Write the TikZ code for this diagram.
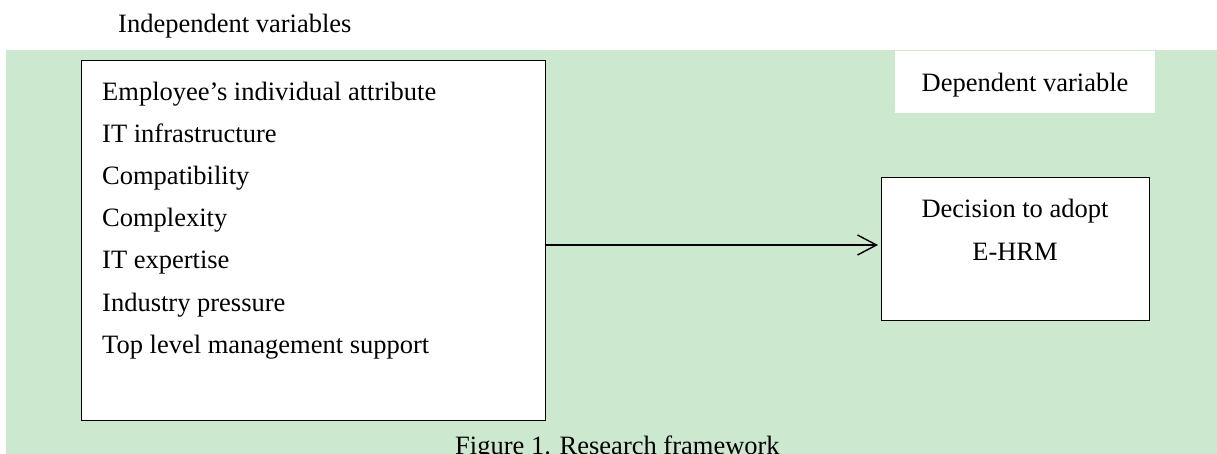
\documentclass[tikz,border=0pt]{standalone}
\usepackage{fontspec}
\setmainfont{Liberation Serif}
\usetikzlibrary{arrows.meta}
\definecolor{panelgreen}{RGB}{204,232,207}
\begin{document}
\begin{tikzpicture}[x=1pt,y=-1pt,
  label/.style={font=\fontsize{26.5}{42}\selectfont, inner sep=0pt},
  framebox/.style={draw=black, fill=white, line width=1.3pt, inner sep=0pt},
  plainbox/.style={fill=white, inner sep=0pt},
  link/.style={line width=1.4pt, -{Straight Barb[length=19pt,width=20pt,line width=1.4pt]}},
]
\useasboundingbox (0,0) rectangle (1217,454);

% shaded panel behind the framework
\fill[panelgreen] (6,50) rectangle (1217,454);

% heading above the panel
\node[label, anchor=base west] (ivhead) at (118,33) {Independent variables};

% box of independent variables
\node[framebox, anchor=north west, minimum width=464pt, minimum height=360pt] (ivbox) at (81,60) {};
\foreach \t [count=\i from 0] in {Employee’s individual attribute, IT infrastructure, Compatibility, Complexity, IT expertise, Industry pressure, Top level management support}
  \node[label, anchor=base west] (iv\i) at (102,101+42*\i) {\t};

% dependent variable heading
\node[plainbox, anchor=north west, minimum width=260pt, minimum height=62pt] (dvhead) at (895,51) {};
\node[label, anchor=base] (dvheadtxt) at (1025,92) {Dependent variable};

% dependent variable box
\node[framebox, anchor=north west, minimum width=268pt, minimum height=143pt] (dvbox) at (881,177) {};
\node[label, anchor=base] (dv1) at (1015,218) {Decision to adopt};
\node[label, anchor=base] (dv2) at (1015,260) {E-HRM};

% arrow from independent to dependent variables
\coordinate (arrowy) at (0,245);
\draw[link, shorten >=3pt] (ivbox.east |- arrowy) -- (dvbox.west |- arrowy);

% caption
\node[label, anchor=base west] (caption) at (455,454.5) {Figure 1. Research framework};
\end{tikzpicture}
\end{document}
